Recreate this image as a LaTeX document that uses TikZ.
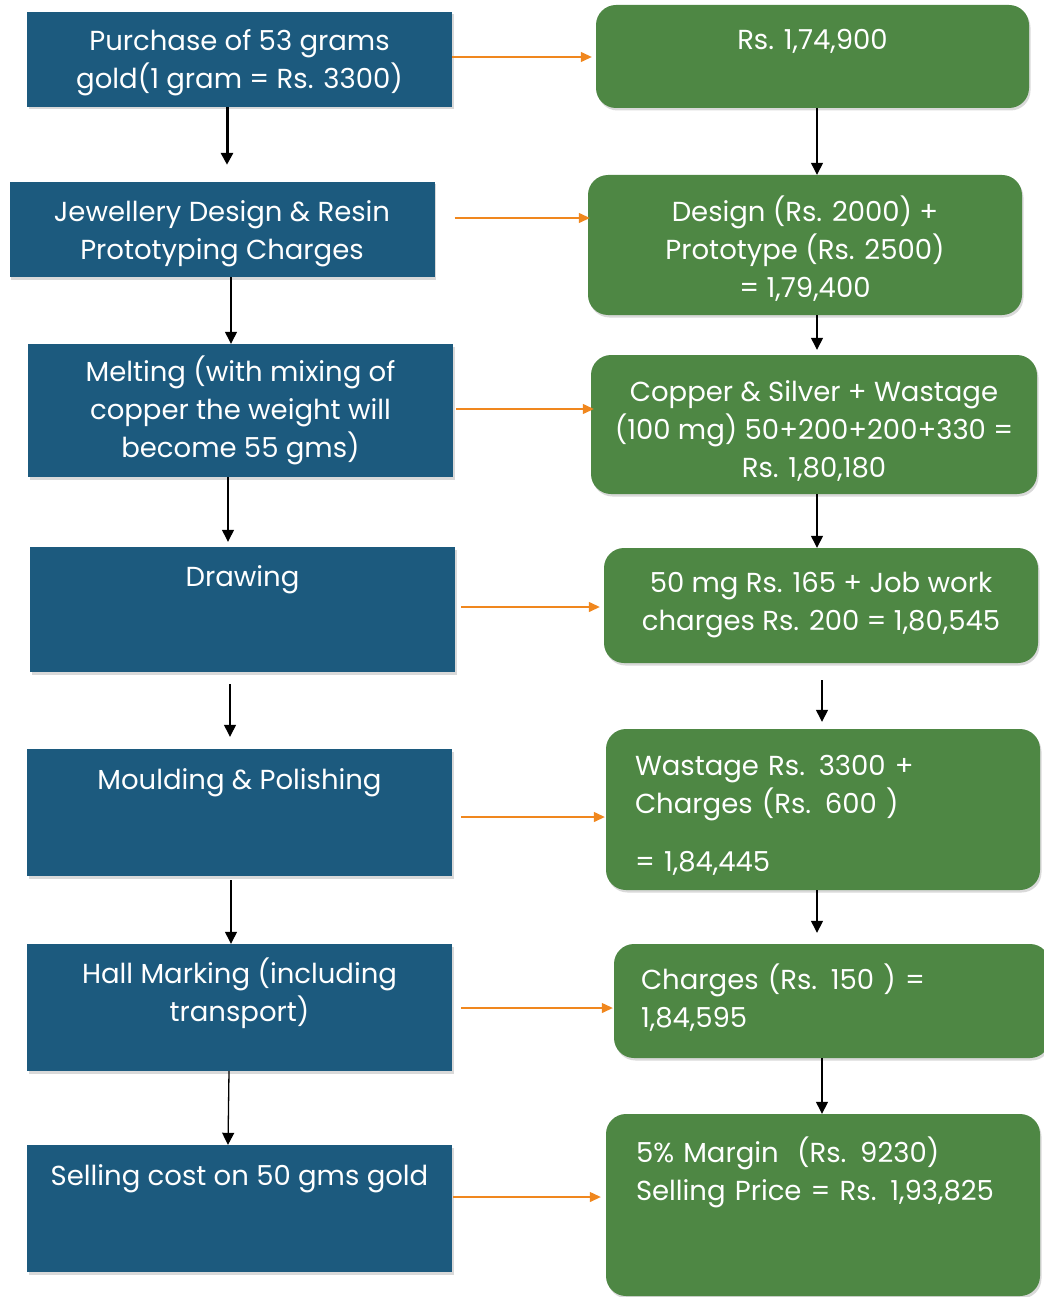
\documentclass[tikz,border=0pt]{standalone}
\usepackage{fontspec}
\setmainfont{Poppins}
\usetikzlibrary{arrows.meta,shadows}
\definecolor{sBlue}{HTML}{1C5A7E}
\definecolor{sGreen}{HTML}{4E8744}
\definecolor{sOrange}{HTML}{F0871E}
\tikzset{
  stage/.style={rectangle, fill=sBlue, text=white, align=center, inner sep=0pt,
                minimum width=425pt, minimum height=#1,
                font=\fontsize{27.5}{38}\selectfont,
                drop shadow={shadow xshift=1.5pt, shadow yshift=-2.5pt, opacity=0.3}},
  stage/.default=95pt,
  cost/.style={rectangle, rounded corners=20pt, fill=sGreen, text=white, align=center,
               inner sep=0pt, minimum width=434pt, minimum height=#1,
               font=\fontsize{27.5}{38}\selectfont,
               drop shadow={shadow xshift=1.5pt, shadow yshift=-2.5pt, opacity=0.3}},
  cost/.default=110pt,
  flow/.style={-{Triangle[length=11pt,width=10pt]}, sOrange, line width=1.3pt},
  down/.style={-{Triangle[length=12pt,width=12pt]}, black, line width=1.3pt},
}
\begin{document}
\begin{tikzpicture}[x=1pt, y=-1pt]
  \useasboundingbox (0,0) rectangle (1043,1297);
  \node[stage] (buy) at (239.5,59.5) {Purchase of 53 grams\\gold(1 gram = Rs. 3300)\\[-48pt]\strut};
  \node[stage] (design) at (222,229.5) {Jewellery Design \& Resin\\Prototyping Charges\\[-50pt]\strut};
  \node[stage=133pt] (melt) at (240.5,410.5)
    {Melting (with mixing of\\copper the weight will\\become 55 gms)};
  \node[stage=125pt] (drawing) at (242.5,609.5) {Drawing\\[18pt]\strut};
  \node[stage=127pt] (mould) at (239.5,812.5) {Moulding \& Polishing\\[18pt]\strut};
  \node[stage=127pt] (hall) at (239.5,1007.5) {Hall Marking (including\\transport)\\[-14pt]\strut};
  \node[stage=127pt] (sell) at (239.5,1208.5) {Selling cost on 50 gms gold\\[18pt]\strut};

  \node[cost=103pt, minimum width=433pt] (p1) at (812.5,56.5) {Rs. 1,74,900\\[-16pt]\strut};
  \node[cost=140pt] (p2) at (805,245) {Design (Rs. 2000) +\\Prototype (Rs. 2500)\\= 1,79,400\\[-52pt]\strut};
  \node[cost=139pt, minimum width=446pt] (p3) at (814,424.5)
    {Copper \& Silver + Wastage\\(100 mg) 50+200+200+330 =\\Rs. 1,80,180\\[-58pt]\strut};
  \node[cost=115pt] (p4) at (821,605.5) {50 mg Rs. 165 + Job work\\charges Rs. 200 = 1,80,545};
  \node[cost=161pt, align=left, text width=376pt, inner xsep=29pt] (p5) at (823,809.5)
    {Wastage Rs. 3300 +\\Charges (Rs. 600 )\\[20pt]= 1,84,445\\[-57pt]\strut};
  \node[cost=114pt, align=left, text width=382pt, inner xsep=27pt] (p6) at (832,1001)
    {Charges (Rs. 150 ) =\\1,84,595\\[-38pt]\strut};
  \node[cost=182pt, align=left, text width=374pt, inner xsep=30pt] (p7) at (823,1205)
    {5\% Margin\ \ (Rs. 9230)\\Selling Price = Rs. 1,93,825\\[24pt]\strut};

  \draw[down, line width=3pt] ([xshift=-12.5pt]buy.south) -- ([xshift=5pt, yshift=17pt]design.north);
  \draw[down] ([xshift=9pt]design.south) -- ([xshift=-9.5pt]melt.north);
  \draw[down] ([xshift=-12.5pt]melt.south) -- ([xshift=-14.5pt, yshift=5pt]drawing.north);
  \draw[down] ([xshift=-12.5pt, yshift=-12pt]drawing.south) -- ([xshift=-9.5pt, yshift=12pt]mould.north);
  \draw[down] ([xshift=-8.5pt, yshift=-4pt]mould.south) -- ([xshift=-8.5pt]hall.north);
  \draw[down] ([xshift=-10.5pt]hall.south) -- ([xshift=-11.5pt]sell.north);

  \draw[down] ([xshift=4.5pt]p1.south) -- ([xshift=12pt]p2.north);
  \draw[down] ([xshift=12pt]p2.south) -- ([xshift=3pt, yshift=5pt]p3.north);
  \draw[down] ([xshift=3pt]p3.south) -- ([xshift=-4pt]p4.north);
  \draw[down] ([xshift=1pt, yshift=-17pt]p4.south) -- ([xshift=-1pt, yshift=7pt]p5.north);
  \draw[down] ([xshift=-6pt]p5.south) -- ([xshift=-15pt, yshift=11pt]p6.north);
  \draw[down] ([xshift=-10pt]p6.south) -- ([xshift=-1pt]p7.north);

  \draw[flow] ([yshift=2.5pt]buy.east) -- ([xshift=-4pt, yshift=-0.5pt]p1.west);
  \draw[flow] ([xshift=20pt, yshift=11.5pt]design.east) -- ([xshift=2pt, yshift=27pt]p2.west);
  \draw[flow] ([xshift=3pt, yshift=1.5pt]melt.east) -- ([xshift=3pt, yshift=15.5pt]p3.west);
  \draw[flow] ([xshift=6pt, yshift=2.5pt]drawing.east) -- ([xshift=-4pt, yshift=-1.5pt]p4.west);
  \draw[flow] ([xshift=9pt, yshift=-4.5pt]mould.east) -- ([xshift=-1pt, yshift=-7.5pt]p5.west);
  \draw[flow] ([xshift=9pt, yshift=-0.5pt]hall.east) -- ([xshift=-1pt, yshift=-7pt]p6.west);
  \draw[flow] ([xshift=1pt, yshift=11.5pt]sell.east) -- ([xshift=-5pt, yshift=8pt]p7.west);
\end{tikzpicture}
\end{document}
